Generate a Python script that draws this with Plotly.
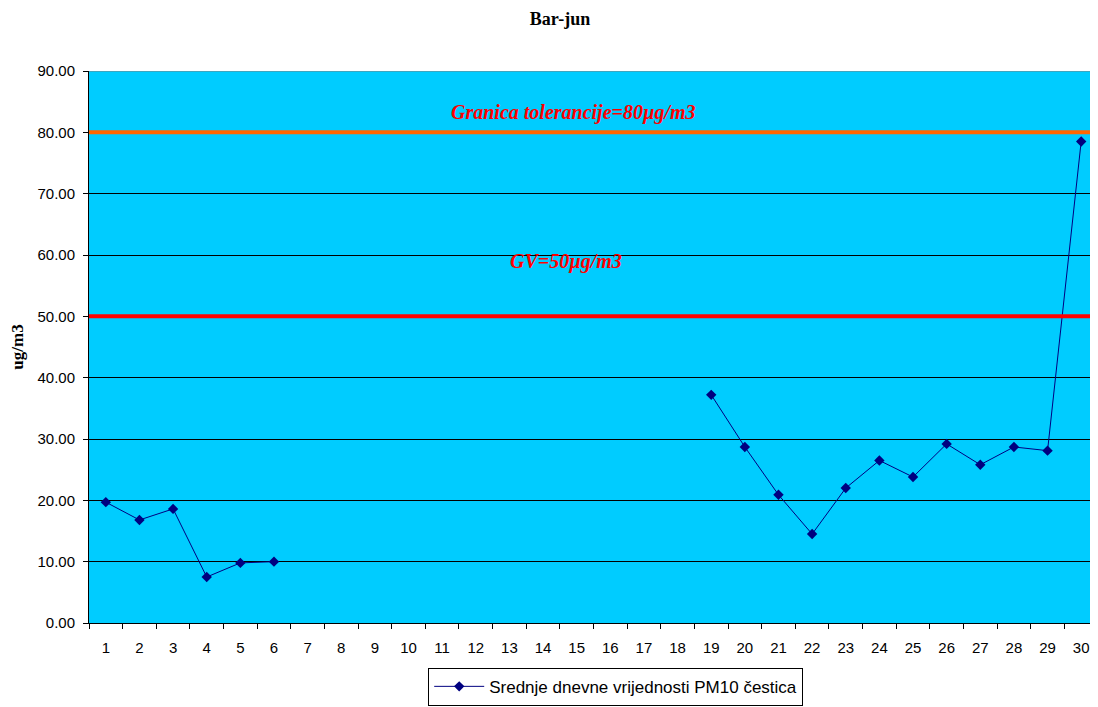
import plotly.graph_objects as go

days = [str(d) for d in range(1, 31)]
pm10 = [19.7, 16.8, 18.6, 7.5, 9.8, 10.0,
        None, None, None, None, None, None, None, None, None, None, None, None,
        37.2, 28.7, 20.9, 14.5, 22.0, 26.5, 23.8, 29.2, 25.8, 28.7, 28.1, 78.5]
tolerance_limit = 80
limit_value = 50
y_ticks = [0, 10, 20, 30, 40, 50, 60, 70, 80, 90]

fig = go.Figure()
fig.add_trace(go.Scatter(
    x=days, y=pm10, mode="lines+markers",
    name="Srednje dnevne vrijednosti PM10 čestica",
    line=dict(color="#000080", width=1),
    marker=dict(symbol="diamond", size=8, color="#000080"),
    connectgaps=False,
))

fig.add_shape(type="line", xref="x domain", yref="y", x0=0, x1=1,
              y0=tolerance_limit, y1=tolerance_limit,
              line=dict(color="#FF6600", width=4))
fig.add_shape(type="line", xref="x domain", yref="y", x0=0, x1=1,
              y0=limit_value, y1=limit_value,
              line=dict(color="#FF0000", width=4))
fig.add_shape(type="line", xref="x domain", yref="y", x0=0, x1=1, y0=90, y1=90,
              line=dict(color="#808080", width=1), layer="above")

ann_font = dict(family="Liberation Serif", size=20, color="#FF0000")
fig.add_annotation(xref="x domain", yref="y", x=0.48, y=83.3,
                   text="<b><i>Granica tolerancije=80µg/m3</i></b>", showarrow=False,
                   font=ann_font)
fig.add_annotation(xref="x domain", yref="y", x=0.473, y=58.9,
                   text="<b><i>GV=50µg/m3</i></b>", showarrow=False,
                   font=ann_font)

fig.update_layout(
    width=1090, height=699,
    margin=dict(l=81, r=0, t=63, b=84),
    paper_bgcolor="white",
    plot_bgcolor="#00CCFF",
    font=dict(family="Liberation Sans", size=15, color="#000000"),
    title=dict(text="<b>Bar-jun</b>", x=(560 - 8) / 1090, xanchor="center",
               y=1 - 11 / 699, yanchor="middle",
               font=dict(family="Liberation Serif", size=18, color="#000000")),
    showlegend=True,
    legend=dict(orientation="h", x=0.522, xanchor="center", y=-0.15, yanchor="bottom",
                bordercolor="#000000", borderwidth=1, bgcolor="white", itemwidth=50,
                font=dict(family="Liberation Sans", size=17)),
    xaxis=dict(type="category", tickson="boundaries", ticks="outside", ticklen=5,
               tickcolor="#000000", showline=True, linecolor="#000000", linewidth=1,
               showgrid=False, range=[-0.5, 29.5], ticklabelstandoff=11),
    yaxis=dict(range=[0, 90], tickvals=y_ticks, tickformat=".2f", ticks="outside",
               ticklen=5, tickcolor="#000000", showline=True, linecolor="#000000",
               linewidth=1, showgrid=True, gridcolor="#000000", gridwidth=1,
               zeroline=False, ticklabelstandoff=5,
               title=dict(text="<b>ug/m3</b>", standoff=10,
                          font=dict(family="Liberation Serif", size=17))),
)

fig.write_html("out.html")
